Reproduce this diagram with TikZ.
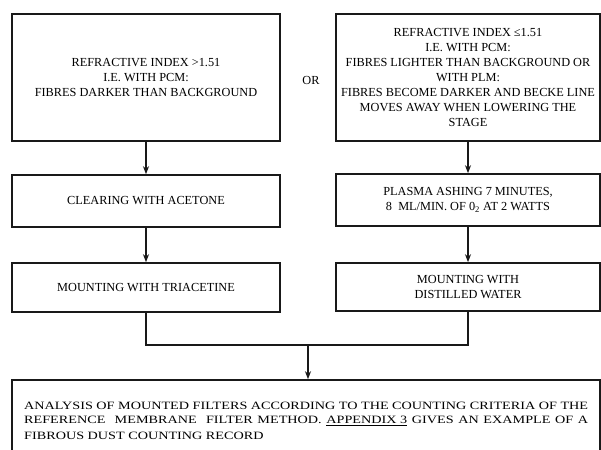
\documentclass[tikz,border=0pt]{standalone}
\usepackage{fontspec}
\usepackage{graphicx}
\setmainfont{Liberation Serif}
\usetikzlibrary{arrows.meta}
\tikzset{
  flowbox/.style={draw=black!90, line width=1.6pt, inner sep=0pt, align=center,
    font=\fontsize{12.3}{15}\selectfont, text=black},
  flowline/.style={draw=black!90, line width=1.6pt},
  flowarrow/.style={flowline, -{Stealth[length=8pt,width=6pt]}},
  btext/.style={anchor=west, inner sep=0pt, text=black, font=\fontsize{11.2}{13}\selectfont}
}
\newlength\bwA
\newcommand{\lineA}{ANALYSIS OF MOUNTED FILTERS ACCORDING TO THE COUNTING CRITERIA OF THE}
\AtBeginDocument{\settowidth{\bwA}{\fontsize{11.2}{13}\selectfont\lineA}}
\begin{document}
\begin{tikzpicture}[x=1pt,y=-1pt]
\useasboundingbox (0,0) rectangle (601,449);
\pgfmathsetmacro\bfac{564/\bwA}
% row 1
\node[flowbox, minimum width=268pt, minimum height=127pt] (l1) at (146,77.5)
  {REFRACTIVE INDEX >1.51\\I.E. WITH PCM:\\FIBRES DARKER THAN BACKGROUND};
\node[flowbox, minimum width=264pt, minimum height=127pt] (r1) at (468,77.5)
  {REFRACTIVE INDEX ≤1.51\\I.E. WITH PCM:\\FIBRES LIGHTER THAN BACKGROUND OR\\WITH PLM:\\FIBRES BECOME DARKER AND BECKE LINE\\MOVES AWAY WHEN LOWERING THE\\STAGE};
\node[font=\fontsize{12.3}{15}\selectfont, text=black, inner sep=0pt] (or) at (311,80) {OR};
% row 2
\node[flowbox, minimum width=268pt, minimum height=52pt] (l2) at (146,201)
  {CLEARING WITH ACETONE};
\node[flowbox, minimum width=264pt, minimum height=52pt] (r2) at (468,200)
  {PLASMA ASHING 7 MINUTES,\\8\ \ ML/MIN. OF 0\textsubscript{2} AT 2 WATTS};
% row 3
\node[flowbox, minimum width=268pt, minimum height=49pt] (l3) at (146,287.5)
  {MOUNTING WITH TRIACETINE};
\node[flowbox, minimum width=264pt, minimum height=48pt] (r3) at (468,287)
  {MOUNTING WITH\\DISTILLED WATER};
% bottom box
\node[draw=black!90, line width=1.6pt, minimum width=588pt, minimum height=80pt, inner sep=0pt] (bot) at (306,420) {};
\node[btext] (bt1) at (24,406) {\scalebox{\bfac}[1]{\lineA}};
\node[btext] (bt2) at (24,421) {\scalebox{\bfac}[1]{\makebox[\bwA][s]{REFERENCE\ \ MEMBRANE\ \ FILTER METHOD. \underline{APPENDIX 3} GIVES AN EXAMPLE OF A}}};
\node[btext] (bt3) at (24,436) {\scalebox{\bfac}[1]{FIBROUS DUST COUNTING RECORD}};
% connectors
\draw[flowarrow] (l1.south) -- (l2.north);
\draw[flowarrow] (r1.south) -- (r2.north);
\draw[flowarrow] (l2.south) -- (l3.north);
\draw[flowarrow] (r2.south) -- (r3.north);
\coordinate (ml) at (l3.south |- 0,345);
\coordinate (mr) at (r3.south |- 0,345);
\coordinate (mc) at (308,345);
\draw[flowline] (l3.south) -- (ml) -- (mr) -- (r3.south);
\draw[flowarrow] (mc) -- (mc |- bot.north);
\end{tikzpicture}
\end{document}
